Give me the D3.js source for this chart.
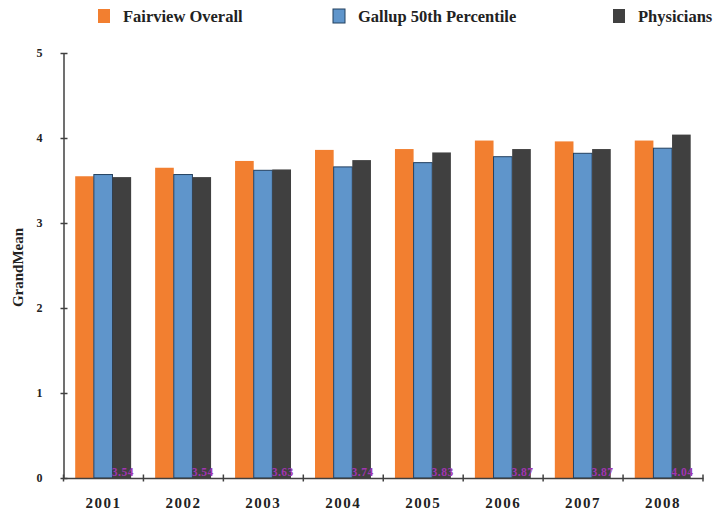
<!DOCTYPE html>
<html>
<head>
<meta charset="utf-8">
<script src="https://cdn.jsdelivr.net/npm/d3@7"></script>
<style>
  html, body { margin: 0; padding: 0; background: #fff; }
  svg { display: block; }
  text { font-family: "Liberation Serif", "DejaVu Serif", serif; font-weight: bold; }
</style>
</head>
<body>
<svg id="chart" width="718" height="512"></svg>
<script>
// Patient satisfaction grand means by year
const years = ["2001", "2002", "2003", "2004", "2005", "2006", "2007", "2008"];
const seriesNames = ["Fairview Overall", "Gallup 50th Percentile", "Physicians"];
const fairview  = [3.55, 3.65, 3.73, 3.86, 3.87, 3.97, 3.96, 3.97];
const gallup50  = [3.57, 3.57, 3.62, 3.66, 3.71, 3.78, 3.82, 3.88];
const physicians = [3.54, 3.54, 3.63, 3.74, 3.83, 3.87, 3.87, 4.04];
const yTicks = [0, 1, 2, 3, 4, 5];
const colors = ["#f27f30", "#5f95cb", "#404040"];

const seriesValues = [fairview, gallup50, physicians];
const rows = years.map((y, i) => ({
  year: y,
  values: seriesNames.map((s, k) => ({ key: s, value: seriesValues[k][i] }))
}));

const svg = d3.select("#chart");
const margin = { left: 63.5, right: 15, top: 53, bottom: 34 };
const W = 718, H = 512;

const x0 = d3.scaleBand().domain(years).range([margin.left, W - margin.right]).paddingInner(0).paddingOuter(0);
const x1 = d3.scaleBand().domain(seriesNames).range([11.7, x0.bandwidth() - 12.3]);
const y = d3.scaleLinear().domain([0, 5]).range([H - margin.bottom, margin.top]);
const color = d3.scaleOrdinal().domain(seriesNames).range(colors);

// bars
const g = svg.append("g");
const groups = g.selectAll("g.year").data(rows).join("g")
  .attr("class", "year")
  .attr("transform", d => `translate(${x0(d.year)},0)`);

groups.selectAll("rect").data(d => d.values).join("rect")
  .attr("x", d => x1(d.key))
  .attr("y", d => y(d.value))
  .attr("width", x1.bandwidth())
  .attr("height", d => y(0) - y(d.value))
  .attr("fill", d => color(d.key))
  .attr("stroke", d => d.key === "Gallup 50th Percentile" ? "#23405f" : "none")
  .attr("stroke-width", 1);

// value labels for the physicians series, at the base of each bar
groups.append("text")
  .attr("x", x1("Physicians") + x1.bandwidth() / 2 + 1)
  .attr("y", y(0) - 2)
  .attr("text-anchor", "middle")
  .attr("font-size", 11.5)
  .attr("letter-spacing", 0.5)
  .attr("fill", "#a034b0")
  .text((d, i) => d3.format(".2f")(physicians[i]));

// y axis
const yAxis = d3.axisLeft(y).tickValues(yTicks).tickFormat(d3.format("d")).tickSizeInner(0).tickSizeOuter(0).tickPadding(21);
const ya = svg.append("g").attr("transform", `translate(${margin.left},0)`).call(yAxis);
ya.select(".domain").attr("stroke", "#404040").attr("stroke-width", 1.5);
ya.selectAll(".tick text").attr("font-size", 12).attr("fill", "#222");
ya.selectAll(".tick").append("line").attr("x1", -3).attr("x2", 4).attr("stroke", "#404040").attr("stroke-width", 1.5);

// x axis
const xa = svg.append("g").attr("transform", `translate(0,${y(0)})`)
  .call(d3.axisBottom(x0).tickSize(0).tickPadding(19));
xa.select(".domain").attr("stroke", "#404040").attr("stroke-width", 1.5);
xa.selectAll(".tick text").attr("font-size", 15).attr("fill", "#222").attr("letter-spacing", 1.5);
xa.selectAll("line.sep").data(years.concat(["end"])).join("line")
  .attr("class", "sep")
  .attr("x1", (d, i) => i < years.length ? x0(d) : x0(years[years.length - 1]) + x0.bandwidth())
  .attr("x2", (d, i) => i < years.length ? x0(d) : x0(years[years.length - 1]) + x0.bandwidth())
  .attr("y1", -3.5).attr("y2", 3.5)
  .attr("stroke", "#404040").attr("stroke-width", 1.5);

// y axis title
svg.append("text")
  .attr("transform", `translate(23,${(y(0) + y(5)) / 2 + 2}) rotate(-90)`)
  .attr("text-anchor", "middle")
  .attr("font-size", 15)
  .attr("fill", "#222")
  .text("GrandMean");

// legend
const legendX = [98, 333, 613];
const lg = svg.append("g").selectAll("g").data(seriesNames).join("g")
  .attr("transform", (d, i) => `translate(${legendX[i]},9)`);
lg.append("rect")
  .attr("width", 12).attr("height", 14)
  .attr("fill", d => color(d))
  .attr("stroke", d => d === "Gallup 50th Percentile" ? "#23405f" : "none");
lg.append("text")
  .attr("x", 25).attr("y", 12.5)
  .attr("font-size", 16.5)
  .attr("fill", "#222")
  .text(d => d);
</script>
</body>
</html>
